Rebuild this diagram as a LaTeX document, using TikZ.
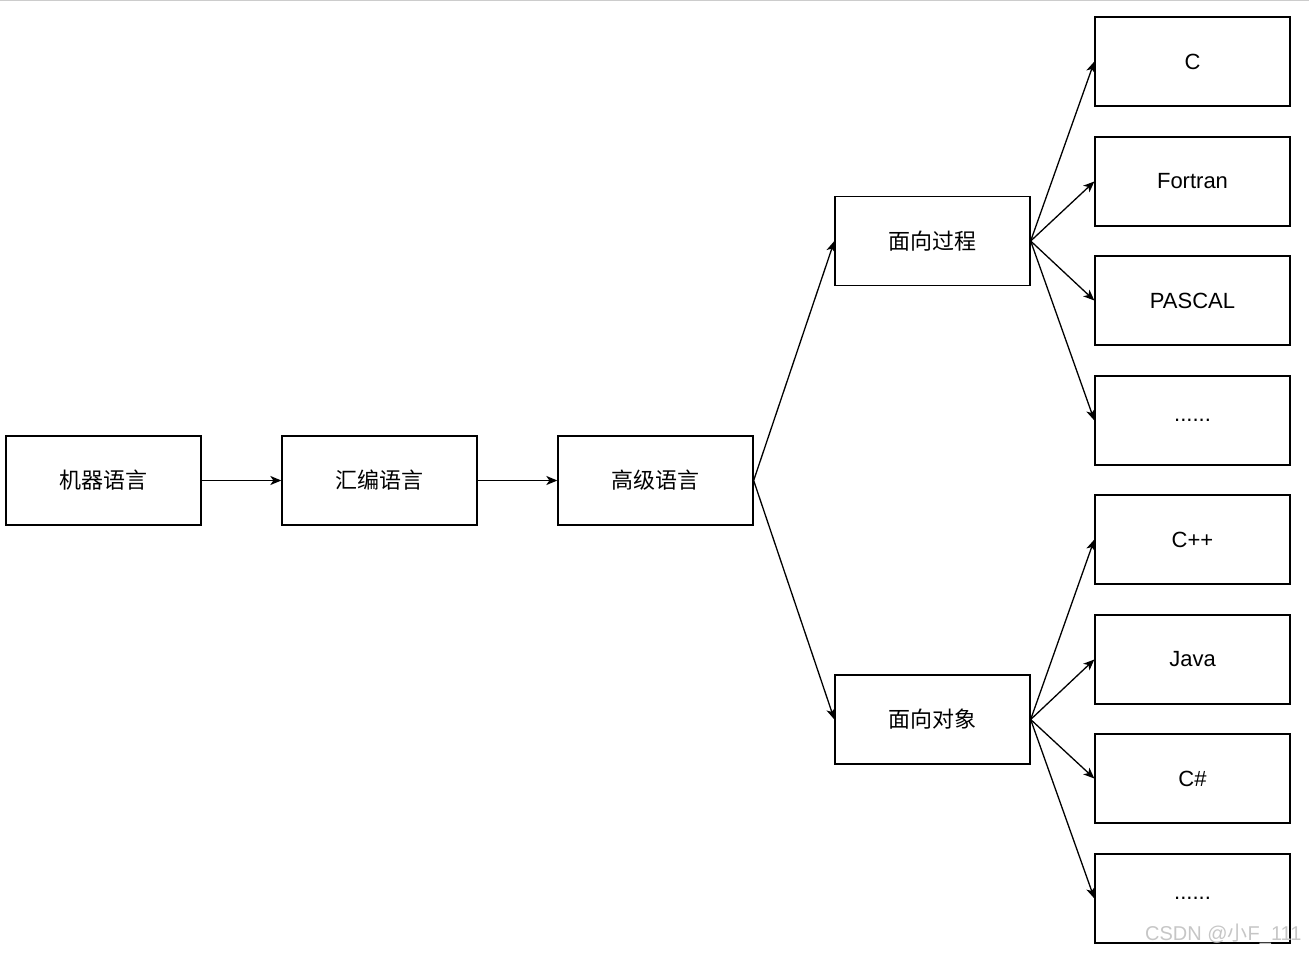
\documentclass[tikz,border=0pt]{standalone}
\usepackage{fontspec}
\setmainfont{Liberation Sans}
\newfontfamily\cjk{Noto Sans CJK SC}
\usetikzlibrary{arrows.meta}
\begin{document}
\begin{tikzpicture}[x=1pt,y=-1pt,
  bx/.style={draw,line width=1.3pt,minimum width=195pt,minimum height=89pt,inner sep=0pt,font=\fontsize{22}{26}\selectfont},
  ar/.style={line width=1.3pt,-{Stealth[length=11pt,width=9pt,inset=3pt]}}]
\useasboundingbox (0,0) rectangle (1309,957);
\draw[gray!40,line width=1pt] (0,1) -- (1309,1);
\node[bx] (m) at (103.5,480.5) {\cjk 机器语言};
\node[bx] (h) at (379.5,480.5) {\cjk 汇编语言};
\node[bx] (g) at (655.5,480.5) {\cjk 高级语言};
\node[bx] (p) at (932.5,241) {\cjk 面向过程};
\node[bx] (o) at (932.5,719.5) {\cjk 面向对象};
\node[bx] (c) at (1192.5,61.5) {C};
\node[bx] (f) at (1192.5,181.5) {Fortran};
\node[bx] (pa) at (1192.5,300.5) {PASCAL};
\node[bx] (d1) at (1192.5,420.5) {......};
\node[bx] (cp) at (1192.5,539.5) {C++};
\node[bx] (j) at (1192.5,659.5) {Java};
\node[bx] (cs) at (1192.5,778.5) {C\#};
\node[bx] (d2) at (1192.5,898.5) {......};
\draw[ar] (m) -- (h);
\draw[ar] (h) -- (g);
\draw[ar] (g.east) -- (p.west);
\draw[ar] (g.east) -- (o.west);
\foreach \t in {c,f,pa,d1} \draw[ar] (p.east) -- (\t.west);
\foreach \t in {cp,j,cs,d2} \draw[ar] (o.east) -- (\t.west);
\node[text=gray!45,font=\fontsize{20}{24}\selectfont,anchor=east] (w) at (1305,934) {CSDN @{\cjk 小}F\_111};
\end{tikzpicture}
\end{document}
